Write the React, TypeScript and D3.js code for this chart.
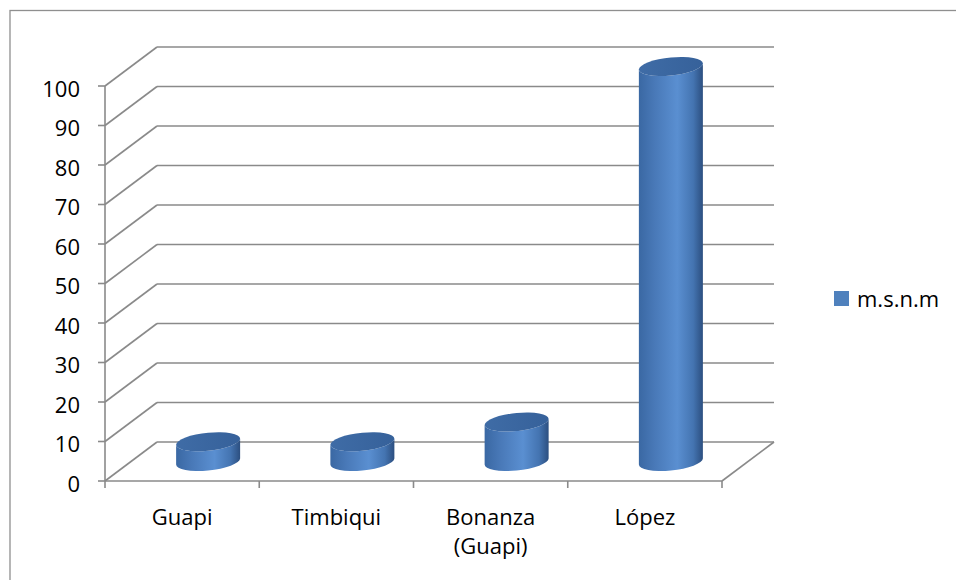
import React from "react";
import * as d3 from "d3";

const categories = ["Guapi", "Timbiqui", "Bonanza\n(Guapi)", "López"];
const values = [5, 5, 10, 100];
const yTicks = [0, 10, 20, 30, 40, 50, 60, 70, 80, 90, 100];
const seriesName = "m.s.n.m";

const FONT = "'Open Sans', sans-serif";

export default function App() {
  const x0 = 105, x1 = 722;
  const x = d3.scaleBand<string>().domain(categories).range([x0, x1]).padding(0);
  const y = d3.scaleLinear().domain([0, 100]).range([481, 86]);
  const dx = 52, dy = -39;
  const grid = "#8a8a8a";
  const rx = 32, ry = 9;
  const skew = -5.5;

  return (
    <svg width={956} height={580} style={{ position: "absolute", left: 0, top: 0 }} xmlns="http://www.w3.org/2000/svg">
      <defs>
        <linearGradient id="body" x1="0" x2="1" y1="0" y2="0">
          <stop offset="0" stopColor="#3a68a3" />
          <stop offset="0.25" stopColor="#4979b8" />
          <stop offset="0.6" stopColor="#5a8fd1" />
          <stop offset="0.85" stopColor="#4474b1" />
          <stop offset="1" stopColor="#2c4f80" />
        </linearGradient>
        <linearGradient id="top" x1="0" x2="1" y1="0" y2="0">
          <stop offset="0" stopColor="#3f6ca6" />
          <stop offset="1" stopColor="#36619a" />
        </linearGradient>
      </defs>
      <rect x={0} y={0} width={956} height={580} fill="#ffffff" />
      <rect x={10} y={10.5} width={1000} height={1000} fill="none" stroke="#8f8f8f" strokeWidth={1.3} />

      {/* back wall gridlines and side wall lines */}
      {yTicks.map((t) => (
        <g key={t}>
          <line x1={x0 + dx} x2={x1 + dx} y1={y(t) + dy} y2={y(t) + dy} stroke={grid} strokeWidth={1.6} />
          <line x1={x0} x2={x0 + dx} y1={y(t)} y2={y(t) + dy} stroke={grid} strokeWidth={1.6} />
          <line x1={x0 - 7} x2={x0} y1={y(t)} y2={y(t)} stroke={grid} strokeWidth={1.6} />
          <text x={80} y={y(t) + 10.5} textAnchor="end" fontFamily={FONT} fontSize={22} fill="#000">{t}</text>
        </g>
      ))}
      {/* vertical axis */}
      <line x1={x0} x2={x0} y1={y(100)} y2={y(0)} stroke={grid} strokeWidth={1.6} />
      {/* floor */}
      <line x1={x0} x2={x1} y1={y(0)} y2={y(0)} stroke={grid} strokeWidth={1.6} />
      <line x1={x1} x2={x1 + dx} y1={y(0)} y2={y(0) + dy} stroke={grid} strokeWidth={1.6} />
      {[...categories.map((c) => x(c) as number), x1].map((px, i) => (
        <line key={i} x1={px} x2={px} y1={y(0)} y2={y(0) + 7} stroke={grid} strokeWidth={1.6} />
      ))}

      {/* cylinders */}
      {categories.map((c, i) => {
        const cx = (x(c) as number) + x.bandwidth() / 2 + dx / 2;
        const yB = y(0) + dy / 2;
        const yT = y(values[i]) + dy / 2;
        const body = `M${-rx},${yT} L${-rx},${yB} A${rx},${ry} 0 0 0 ${rx},${yB} L${rx},${yT} A${rx},${ry} 0 0 1 ${-rx},${yT} Z`;
        return (
          <g key={c} transform={`translate(${cx},0) translate(0,${yB}) skewY(${skew}) translate(0,${-yB})`}>
            <path d={body} fill="url(#body)" />
            <ellipse cx={0} cy={yT} rx={rx} ry={ry} fill="url(#top)" />
          </g>
        );
      })}

      {/* category labels */}
      {categories.map((c) => {
        const lines = c.split("\n");
        const cx = (x(c) as number) + x.bandwidth() / 2;
        return (
          <text key={c} x={cx} y={525} textAnchor="middle" fontFamily={FONT} fontSize={22} fill="#000">
            {lines.map((l, j) => (
              <tspan key={j} x={cx} dy={j === 0 ? 0 : 29}>{l}</tspan>
            ))}
          </text>
        );
      })}

      {/* legend */}
      <rect x={834} y={291} width={15} height={15} fill="#4f81bd" />
      <text x={857} y={307} fontFamily={FONT} fontSize={22} fill="#000">{seriesName}</text>
    </svg>
  );
}
